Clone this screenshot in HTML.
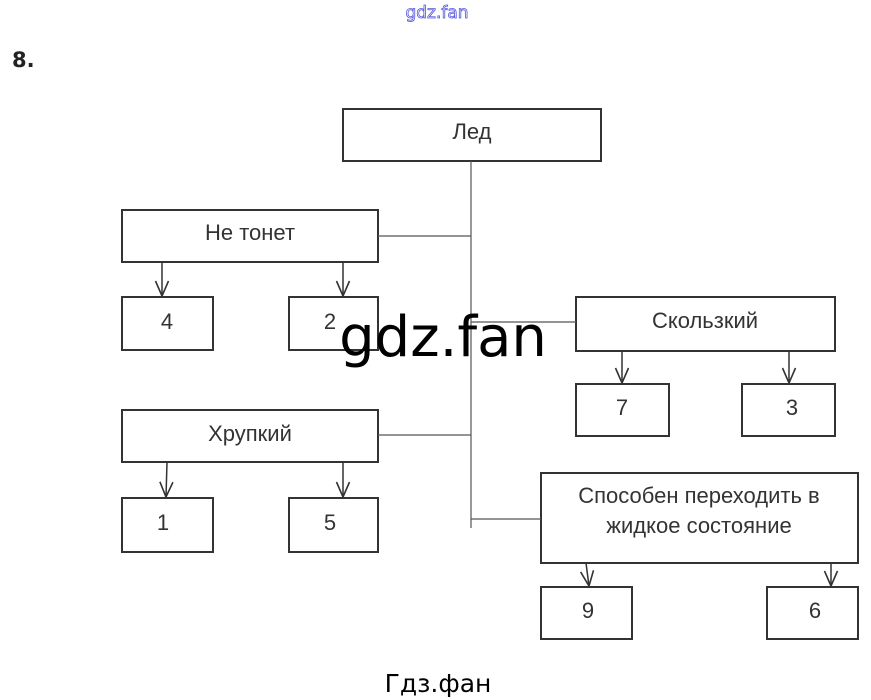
<!DOCTYPE html>
<html><head><meta charset="utf-8"><style>
body{margin:0;background:#fff;width:871px;height:700px;overflow:hidden;position:relative;font-family:"Liberation Sans",sans-serif}
</style></head><body>
<svg width="871" height="700" xmlns="http://www.w3.org/2000/svg" style="position:absolute;left:0;top:0">
<defs><marker id="a" markerWidth="18" markerHeight="16" refX="16" refY="8" orient="auto" markerUnits="userSpaceOnUse"><path d="M1,1.5 L16,8 L1,14.5" fill="none" stroke="#333" stroke-width="1.6"/></marker></defs>
<g fill="#fff" stroke="#333" stroke-width="2">
<rect x="343" y="109" width="258" height="52"/>
<rect x="122" y="210" width="256" height="52"/>
<rect x="122" y="297" width="91" height="53"/>
<rect x="289" y="297" width="89" height="53"/>
<rect x="576" y="297" width="259" height="54"/>
<rect x="576" y="384" width="93" height="52"/>
<rect x="742" y="384" width="93" height="52"/>
<rect x="122" y="410" width="256" height="52"/>
<rect x="122" y="498" width="91" height="54"/>
<rect x="289" y="498" width="89" height="54"/>
<rect x="541" y="473" width="317" height="90"/>
<rect x="541" y="587" width="91" height="52"/>
<rect x="767" y="587" width="91" height="52"/>
</g>
<g stroke="#555" stroke-width="1.2" fill="none">
<line x1="471" y1="161" x2="471" y2="528"/>
<line x1="378" y1="236" x2="471" y2="236"/>
<line x1="471" y1="322" x2="576" y2="322"/>
<line x1="378" y1="435" x2="471" y2="435"/>
<line x1="471" y1="519" x2="541" y2="519"/>
</g>
<g stroke="#333" stroke-width="1.5" marker-end="url(#a)">
<line x1="162" y1="262" x2="162" y2="296"/>
<line x1="343" y1="262" x2="343" y2="296"/>
<line x1="622" y1="351" x2="622" y2="383"/>
<line x1="789" y1="351" x2="789" y2="383"/>
<line x1="167" y1="462" x2="166" y2="497"/>
<line x1="343" y1="462" x2="343" y2="497"/>
<line x1="586" y1="563" x2="589" y2="586"/>
<line x1="831" y1="563" x2="831" y2="586"/>
</g>
<g font-family="Liberation Sans, sans-serif" font-size="22" fill="#333" text-anchor="middle">
<text x="472" y="139">Лед</text>
<text x="250" y="240">Не тонет</text>
<text x="167" y="329">4</text>
<text x="330" y="329">2</text>
<text x="705" y="328">Скользкий</text>
<text x="622" y="415">7</text>
<text x="792" y="415">3</text>
<text x="250" y="441">Хрупкий</text>
<text x="163" y="530">1</text>
<text x="330" y="530">5</text>
<text x="699" y="503">Способен переходить в</text>
<text x="699" y="533">жидкое состояние</text>
<text x="588" y="618">9</text>
<text x="815" y="618">6</text>
</g>
<text x="443" y="356" font-size="56" text-anchor="middle" fill="#000" font-family="DejaVu Sans, sans-serif">gdz.fan</text>
<text x="437" y="18" font-size="17" text-anchor="middle" fill="#fff" stroke="#5555dd" stroke-width="0.8" font-family="DejaVu Sans, sans-serif">gdz.fan</text>
<text x="12" y="67" font-size="21" font-weight="bold" fill="#222" font-family="DejaVu Sans, sans-serif">8.</text>
<text x="438" y="692" font-size="25" text-anchor="middle" fill="#000" font-family="DejaVu Sans, sans-serif">Гдз.фан</text>
</svg>
</body></html>
